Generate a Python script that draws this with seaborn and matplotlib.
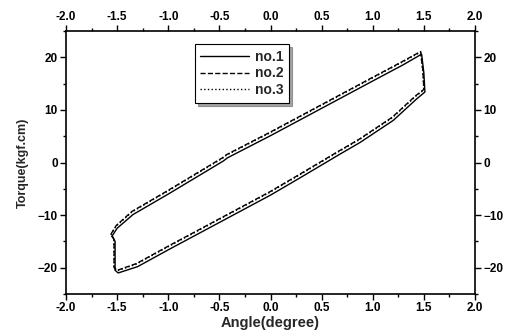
import matplotlib
matplotlib.use("Agg")
import matplotlib.pyplot as plt
import seaborn as sns
import pandas as pd
from matplotlib.ticker import MultipleLocator

# ---- data ----
angle_1 = [-1.55, -1.50, -1.345, -1.00, -0.46, -0.42, 0.00, 0.50, 1.00, 1.30, 1.478,
           1.50, 1.51, 1.43, 1.20, 0.875, 0.68, 0.29, 0.00, -0.50, -1.00, -1.30, -1.49, -1.52, -1.52, -1.55]
torque_1 = [-14.0, -12.5, -9.9, -6.0, 0.3, 0.9, 5.1, 10.3, 15.5, 18.6, 20.6,
            17.0, 13.4, 12.1, 8.0, 3.8, 1.6, -2.9, -6.2, -11.4, -16.6, -19.8, -21.0, -20.5, -15.0, -14.0]

angle_2 = [-1.56, -1.51, -1.355, -1.01, -0.47, -0.43, -0.01, 0.49, 0.99, 1.29, 1.468,
           1.49, 1.50, 1.42, 1.19, 0.865, 0.67, 0.28, -0.01, -0.51, -1.01, -1.31, -1.50, -1.53, -1.53, -1.56]
torque_2 = [-13.6, -12.0, -9.3, -5.4, 0.9, 1.5, 5.7, 10.9, 16.1, 19.2, 21.1,
            17.5, 13.9, 12.7, 8.6, 4.4, 2.2, -2.3, -5.6, -10.8, -16.0, -19.2, -20.5, -20.0, -14.6, -13.6]

angle_3 = [-1.56, -1.51, -1.355, -1.01, -0.47, -0.43, -0.01, 0.49, 0.99, 1.29, 1.468,
           1.49, 1.50, 1.42, 1.19, 0.865, 0.67, 0.28, -0.01, -0.51, -1.01, -1.31, -1.50, -1.53, -1.53, -1.56]
torque_3 = [-13.7, -12.1, -9.4, -5.5, 0.8, 1.4, 5.6, 10.8, 16.0, 19.1, 21.0,
            17.4, 13.8, 12.6, 8.5, 4.3, 2.1, -2.4, -5.7, -10.9, -16.1, -19.3, -20.6, -20.1, -14.7, -13.7]

series_names = ["no.1", "no.2", "no.3"]
x_ticks = [-2.0, -1.5, -1.0, -0.5, 0.0, 0.5, 1.0, 1.5, 2.0]
y_ticks = [-20, -10, 0, 10, 20]

sns.set_style("ticks")
plt.rcParams["font.family"] = ["Liberation Sans", "DejaVu Sans"]

fig = plt.figure(figsize=(5.09, 3.36), dpi=100)
ax = fig.add_axes([0.1297, 0.125, 0.8035, 0.7827])

styles = ["-", "--", ":"]
for name, xs, ys, ls in zip(series_names, [angle_1, angle_2, angle_3],
                            [torque_1, torque_2, torque_3], styles):
    df = pd.DataFrame({"angle": xs, "torque": ys})
    sns.lineplot(data=df, x="angle", y="torque", sort=False, estimator=None,
                 color="black", linestyle=ls, linewidth=1.0, label=name, ax=ax)

ax.set_xlim(-2, 2)
ax.set_ylim(-25, 25)
ax.set_xticks(x_ticks)
ax.set_xticklabels([f"{v:.1f}" for v in x_ticks])
ax.set_yticks(y_ticks)
ax.xaxis.set_minor_locator(MultipleLocator(0.25))
ax.yaxis.set_minor_locator(MultipleLocator(5))
ax.tick_params(which="both", direction="out", top=True, right=True,
               labeltop=True, labelright=True, width=1.0, colors="black")
ax.tick_params(which="major", length=4, labelsize=8.5, pad=2)
ax.tick_params(which="minor", length=2)
for lab in ax.get_xticklabels(which="both") + ax.get_yticklabels(which="both"):
    lab.set_fontweight("bold")
for sp in ax.spines.values():
    sp.set_visible(True)
    sp.set_linewidth(1.2)
    sp.set_color("black")

ax.set_xlabel("Angle(degree)", fontsize=10.5, fontweight="bold", labelpad=1)
ax.set_ylabel("Torque(kgf.cm)", fontsize=9, fontweight="bold", labelpad=6)

leg = ax.legend(loc="upper left", bbox_to_anchor=(0.315, 0.95), frameon=True,
                fancybox=False, shadow=True, edgecolor="black", fontsize=10,
                handlelength=3.5, borderpad=0.4, labelspacing=0.2, handletextpad=0.4,
                borderaxespad=0)
leg.get_frame().set_linewidth(0.8)
for t in leg.get_texts():
    t.set_fontweight("bold")

fig.savefig("out.png", dpi=100)
